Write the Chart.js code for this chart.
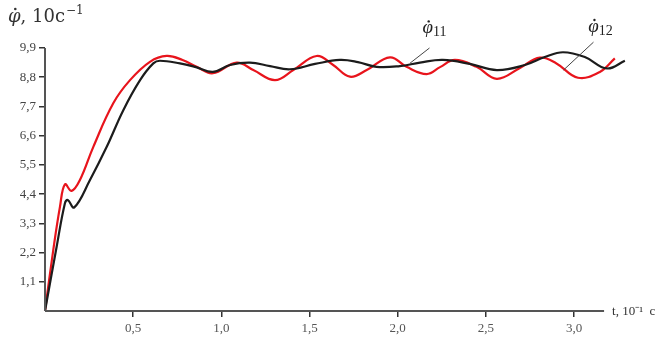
<!DOCTYPE html>
<html>
<head>
<meta charset="utf-8">
<script src="https://cdn.jsdelivr.net/npm/chart.js@4/dist/chart.umd.min.js"></script>
<style>
  html, body { margin: 0; padding: 0; background: #fff; }
  #wrap { width: 670px; height: 342px; }
</style>
</head>
<body>
<div id="wrap"><canvas id="chart"></canvas></div>
<script>
// t, 10^-1 c  and  phi-dot values
const t11 = [0, 0.066, 0.113, 0.129, 0.166, 0.255, 0.35, 0.444, 0.539, 0.614, 0.652, 0.765, 0.856, 0.952,
  1.049, 1.162, 1.276, 1.389, 1.531, 1.672, 1.774, 1.88, 2.012, 2.126, 2.256, 2.409, 2.562, 2.721,
  2.834, 2.937, 3.061, 3.186, 3.288];
const phi11 = [0, 2.42, 4.06, 4.18, 3.90, 4.93, 6.18, 7.56, 8.69, 9.32, 9.42, 9.32, 9.18, 9.00,
  9.26, 9.35, 9.22, 9.10, 9.30, 9.45, 9.37, 9.19, 9.22, 9.35, 9.45, 9.30, 9.07, 9.26,
  9.56, 9.74, 9.56, 9.13, 9.42];

const t12 = [0, 0.047, 0.085, 0.113, 0.151, 0.198, 0.274, 0.387, 0.482, 0.595, 0.69, 0.78, 0.86, 0.952,
  1.087, 1.181, 1.304, 1.408, 1.54, 1.634, 1.729, 1.824, 1.956, 2.05, 2.164, 2.24, 2.324, 2.447,
  2.562, 2.693, 2.806, 2.9, 3.022, 3.146, 3.231];
const phi12 = [0, 2.30, 3.93, 4.77, 4.52, 4.93, 6.18, 7.82, 8.69, 9.38, 9.60, 9.45, 9.19, 8.95,
  9.35, 9.07, 8.69, 9.07, 9.60, 9.26, 8.82, 9.07, 9.55, 9.19, 8.92, 9.18, 9.45, 9.19,
  8.74, 9.15, 9.54, 9.32, 8.78, 9.00, 9.51];

const xTicks = [0.5, 1.0, 1.5, 2.0, 2.5, 3.0];
const yTicks = [1.1, 2.2, 3.3, 4.4, 5.5, 6.6, 7.7, 8.8, 9.9];
const xAxisEnd = 3.17;

// curve labels with leader lines, in data units
const curveLabels = [
  { sub: "11", from: [2.07, 9.33], to: [2.18, 9.9], text: [2.14, 10.45] },
  { sub: "12", from: [2.94, 9.07], to: [3.11, 10.12], text: [3.08, 10.5] }
];

const comma = v => v.toFixed(1).replace(".", ",");
const toPts = (ts, vs) => ts.map((t, i) => ({ x: t, y: vs[i] }));

// phi with a dot above, returns width
function phiDot(c, x, y, font, dotR) {
  c.font = font;
  c.fillText("\u03C6", x, y);
  const m = c.measureText("\u03C6");
  c.beginPath();
  c.arc(x + m.width / 2 + 1, y - m.actualBoundingBoxAscent - 3, dotR, 0, Math.PI * 2);
  c.fill();
  return m.width;
}

const decor = {
  id: "decor",
  afterDraw(chart) {
    const c = chart.ctx;
    const xs = chart.scales.x, ys = chart.scales.y;
    c.save();
    // axes lines
    c.strokeStyle = "#555";
    c.lineWidth = 2;
    c.beginPath();
    c.moveTo(xs.left, ys.bottom);
    c.lineTo(xs.getPixelForValue(xAxisEnd), ys.bottom);
    c.moveTo(xs.left, ys.bottom);
    c.lineTo(xs.left, ys.top);
    c.stroke();

    // axis titles
    c.fillStyle = "#333";
    c.textBaseline = "alphabetic";
    c.textAlign = "left";
    const w0 = phiDot(c, 8, 22, "italic 18px 'DejaVu Serif'", 1.3);
    c.font = "18px 'DejaVu Serif'";
    c.fillText(", 10c", 8 + w0, 22);
    const w1 = c.measureText(", 10c").width;
    c.font = "12px 'DejaVu Serif'";
    c.fillText("\u22121", 8 + w0 + w1 + 1, 14);
    c.font = "13px 'Liberation Serif'";
    c.textBaseline = "middle";
    c.fillText("t, 10\u207B\u00B9  c", xs.getPixelForValue(xAxisEnd) + 8, ys.bottom + 1);

    // curve labels
    c.strokeStyle = "#444";
    c.lineWidth = 1;
    curveLabels.forEach(l => {
      c.beginPath();
      c.moveTo(xs.getPixelForValue(l.from[0]), ys.getPixelForValue(l.from[1]));
      c.lineTo(xs.getPixelForValue(l.to[0]), ys.getPixelForValue(l.to[1]));
      c.stroke();
      const px = xs.getPixelForValue(l.text[0]), py = ys.getPixelForValue(l.text[1]);
      c.fillStyle = "#222";
      c.textBaseline = "alphabetic";
      const w = phiDot(c, px, py, "italic 19px 'Liberation Serif'", 1.2);
      c.font = "14px 'Liberation Serif'";
      c.fillText(l.sub, px + w, py + 3);
    });
    c.restore();
  }
};

new Chart(document.getElementById("chart"), {
  type: "line",
  data: {
    datasets: [
      { label: "phi11", data: toPts(t11, phi11), borderColor: "#1c1c1c", borderWidth: 2.2 },
      { label: "phi12", data: toPts(t12, phi12), borderColor: "#e8141c", borderWidth: 2.2 }
    ]
  },
  options: {
    responsive: true,
    maintainAspectRatio: false,
    animation: false,
    clip: false,
    layout: { padding: { top: 48, right: 43, left: 0, bottom: 0 } },
    elements: { point: { radius: 0 }, line: { tension: 0.4 } },
    plugins: { legend: { display: false }, tooltip: { enabled: false } },
    scales: {
      x: {
        type: "linear",
        min: 0,
        max: 3.3,
        afterBuildTicks: s => { s.ticks = xTicks.map(v => ({ value: v })); },
        afterFit: s => { s.height = 31; },
        border: { display: false },
        grid: { drawOnChartArea: false, tickLength: 6, color: "#333", lineWidth: 1.5 },
        ticks: { callback: v => comma(v), color: "#555", font: { family: "Liberation Serif", size: 13 }, padding: 4, maxRotation: 0 }
      },
      y: {
        min: 0,
        max: 9.9,
        afterBuildTicks: s => { s.ticks = yTicks.map(v => ({ value: v })); },
        afterFit: s => { s.width = 45; },
        border: { display: false },
        grid: { drawOnChartArea: false, tickLength: 6, color: "#333", lineWidth: 1.5 },
        ticks: { callback: v => comma(v), color: "#444", font: { family: "Liberation Serif", size: 13 }, padding: 3 }
      }
    }
  },
  plugins: [decor]
});
</script>
</body>
</html>
